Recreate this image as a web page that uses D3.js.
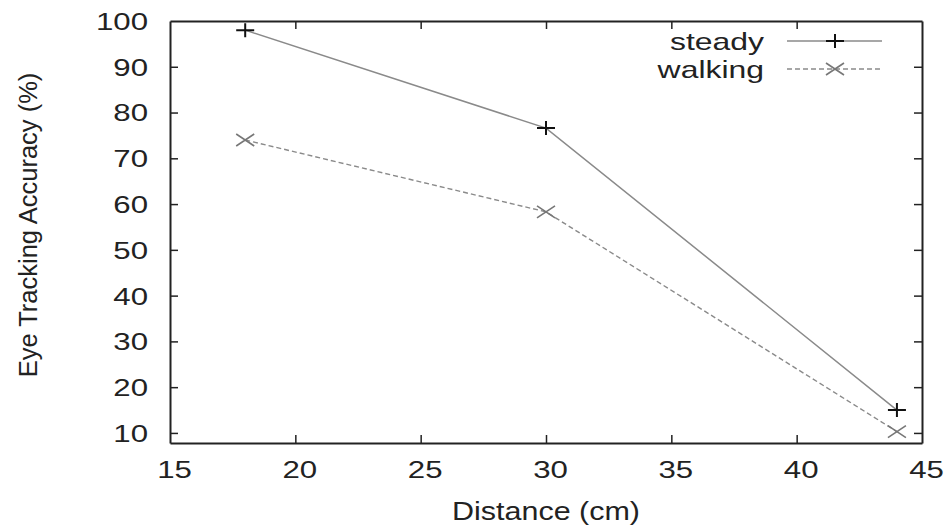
<!DOCTYPE html>
<html>
<head>
<meta charset="utf-8">
<script src="https://cdn.jsdelivr.net/npm/d3@7"></script>
<style>
  body { margin: 0; background: #fff; }
  text { font-family: "Liberation Sans", Arial, sans-serif; fill: #222; }
</style>
</head>
<body>
<div id="chart"></div>
<script>
const distance = [18, 30, 44];
const steady = [98.0, 76.6, 15.0];
const walking = [74.0, 58.3, 10.3];
const seriesNames = ["steady", "walking"];
const xTicks = [15, 20, 25, 30, 35, 40, 45];
const yTicks = [10, 20, 30, 40, 50, 60, 70, 80, 90, 100];

const W = 949, H = 527;
const margin = { top: 21, right: 27, bottom: 84, left: 170 },
    width = W - margin.left - margin.right,
    height = H - margin.top - margin.bottom;
const sx = 1.3; // the source figure is stretched sideways

const svg = d3.select("#chart")
    .append("svg")
    .attr("width", W)
    .attr("height", H)
    .style("background", "#fff")
    .append("g")
    .attr("transform", `translate(${margin.left},${margin.top})`);

const x = d3.scaleLinear().domain([15, 45]).range([0, width]);
const y = d3.scaleLinear().domain([7.8, 100]).range([height, 0]);

// axes with inward ticks on all four sides
function styleAxis(g) {
    g.select(".domain").attr("stroke", "#222").attr("stroke-width", 2);
    g.selectAll(".tick line").attr("stroke", "#222").attr("stroke-width", 1.5);
}

const xAxis = svg.append("g")
    .attr("transform", `translate(0,${height})`)
    .call(d3.axisBottom(x).tickValues(xTicks).tickSizeInner(-8).tickSizeOuter(0))
    .call(styleAxis);
xAxis.selectAll(".tick text")
    .attr("y", 0).attr("dy", 0)
    .attr("x", 4 / sx)
    .attr("transform", `translate(0,35) scale(${sx},1)`)
    .style("font-size", "24px")
    .attr("fill", "#222");
xAxis.selectAll(".tick").filter(d => d === 15 || d === 45).select("line").remove();

svg.append("g")
    .call(d3.axisTop(x).tickValues(xTicks.slice(1, -1)).tickSizeInner(-8).tickSizeOuter(0).tickFormat(""))
    .call(styleAxis);

const yAxis = svg.append("g")
    .call(d3.axisLeft(y).tickValues(yTicks).tickSizeInner(-8).tickSizeOuter(0))
    .call(styleAxis);
yAxis.selectAll(".tick text")
    .attr("x", -22 / sx)
    .attr("dy", "0.35em")
    .attr("transform", `scale(${sx},1)`)
    .style("font-size", "24px")
    .attr("fill", "#222");
yAxis.selectAll(".tick").filter(d => d === 100).select("line").remove();

svg.append("g")
    .attr("transform", `translate(${width},0)`)
    .call(d3.axisRight(y).tickValues(yTicks.slice(0, -1)).tickSizeInner(-8).tickSizeOuter(0).tickFormat(""))
    .call(styleAxis);

// axis titles
svg.append("text")
    .attr("transform", `translate(${width / 2},${height + 77}) scale(1.22,1)`)
    .attr("text-anchor", "middle")
    .style("font-size", "25px")
    .text("Distance (cm)");

svg.append("text")
    .attr("transform", `translate(${37 - margin.left},${height / 2 - 7}) rotate(-90)`)
    .attr("text-anchor", "middle")
    .style("font-size", "25.5px")
    .text("Eye Tracking Accuracy (%)");

// series
const line = d3.line().x(d => x(d[0])).y(d => y(d[1]));
const steadyPts = distance.map((d, i) => [d, steady[i]]);
const walkingPts = distance.map((d, i) => [d, walking[i]]);

svg.append("path")
    .attr("d", line(walkingPts))
    .attr("fill", "none")
    .attr("stroke", "#8a8a8a")
    .attr("stroke-width", 1.4)
    .attr("stroke-dasharray", "5,3");

svg.append("path")
    .attr("d", line(steadyPts))
    .attr("fill", "none")
    .attr("stroke", "#8a8a8a")
    .attr("stroke-width", 1.5);

const plus = (g, px, py) => g.append("path")
    .attr("d", `M${px - 9},${py}H${px + 9}M${px},${py - 7}V${py + 7}`)
    .attr("stroke", "#111").attr("stroke-width", 2).attr("fill", "none");
const cross = (g, px, py) => g.append("path")
    .attr("d", `M${px - 9},${py - 6}L${px + 9},${py + 6}M${px - 9},${py + 6}L${px + 9},${py - 6}`)
    .attr("stroke", "#777").attr("stroke-width", 1.6).attr("fill", "none");

steadyPts.forEach(p => plus(svg, x(p[0]), y(p[1])));
walkingPts.forEach(p => cross(svg, x(p[0]), y(p[1])));

// legend
const legend = svg.append("g").attr("transform", `translate(${764 - margin.left},${41 - margin.top})`);
seriesNames.forEach((name, i) => {
    const row = legend.append("g").attr("transform", `translate(0,${i * 28})`);
    row.append("text")
        .attr("text-anchor", "end")
        .attr("transform", `translate(0,8.5) scale(1.33,1)`)
        .style("font-size", "24px")
        .text(name);
    row.append("line")
        .attr("x1", 23).attr("x2", 118).attr("y1", 0).attr("y2", 0)
        .attr("stroke", "#8a8a8a")
        .attr("stroke-width", i === 0 ? 1.5 : 1.4)
        .attr("stroke-dasharray", i === 0 ? null : "5,3");
    if (i === 0) plus(row, 71, 0); else cross(row, 71, 0);
});
</script>
</body>
</html>
